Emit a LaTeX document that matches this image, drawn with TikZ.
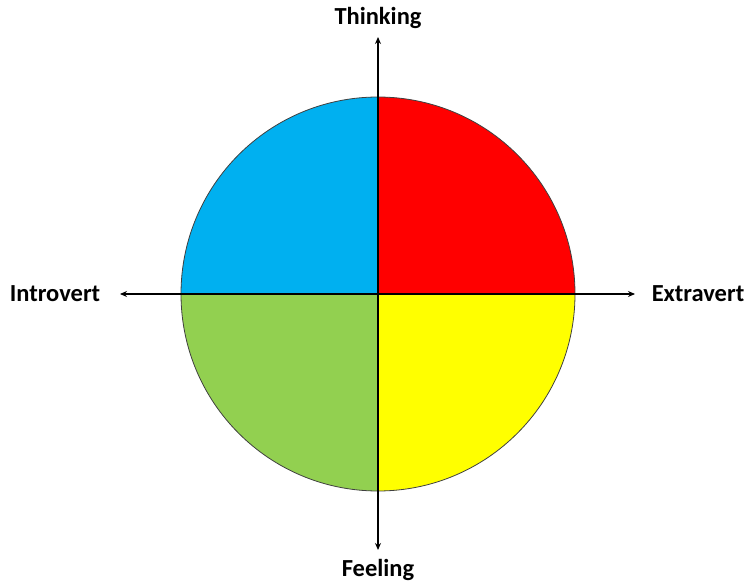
\documentclass[tikz,border=0pt]{standalone}
\usepackage{fontspec}
\setmainfont{Carlito}
\usepackage{xcolor}
\usepackage{tikz}
\usetikzlibrary{arrows.meta, calc}
\definecolor{QuadBlue}{HTML}{00B0F0}
\definecolor{QuadRed}{HTML}{FF0000}
\definecolor{QuadYellow}{HTML}{FFFF00}
\definecolor{QuadGreen}{HTML}{92D050}
\definecolor{RimGray}{HTML}{404040}

\begin{document}
\begin{tikzpicture}[
  x=1pt, y=1pt,
  lbl/.style={inner sep=0pt, font=\fontsize{24.5}{28}\selectfont\bfseries},
  quad/.style={fill=#1, draw=none},
  axis/.style={{Stealth[length=7pt,width=6pt]}-{Stealth[length=7pt,width=6pt]}, line width=1.4pt}
]
\useasboundingbox (0,0) rectangle (746,582);
\coordinate (c) at (378,288);
\def\rad{197}
% quarters of the disc
\fill[quad=QuadRed] (c) -- ++(0,\rad) arc[start angle=90, end angle=0, radius=\rad] -- cycle;
\fill[quad=QuadBlue] (c) -- ++(0,\rad) arc[start angle=90, end angle=180, radius=\rad] -- cycle;
\fill[quad=QuadGreen] (c) -- ++(-\rad,0) arc[start angle=180, end angle=270, radius=\rad] -- cycle;
\fill[quad=QuadYellow] (c) -- ++(0,-\rad) arc[start angle=270, end angle=360, radius=\rad] -- cycle;
\draw[RimGray, line width=0.8pt] (c) circle[radius=\rad];
% labels
\node[lbl] (think) at (378,564) {Thinking};
\node[lbl] (feel) at (378,12) {Feeling};
\node[lbl] (intro) at (55,288) {Introvert};
\node[lbl] (extra) at (698,288) {Extravert};
\coordinate (top) at (378,545);
\coordinate (bot) at (378,32);
\coordinate (left) at (120,288);
\coordinate (right) at (635,288);
\draw[axis] (bot) -- (top);
\draw[axis] (left) -- (right);
\end{tikzpicture}
\end{document}
